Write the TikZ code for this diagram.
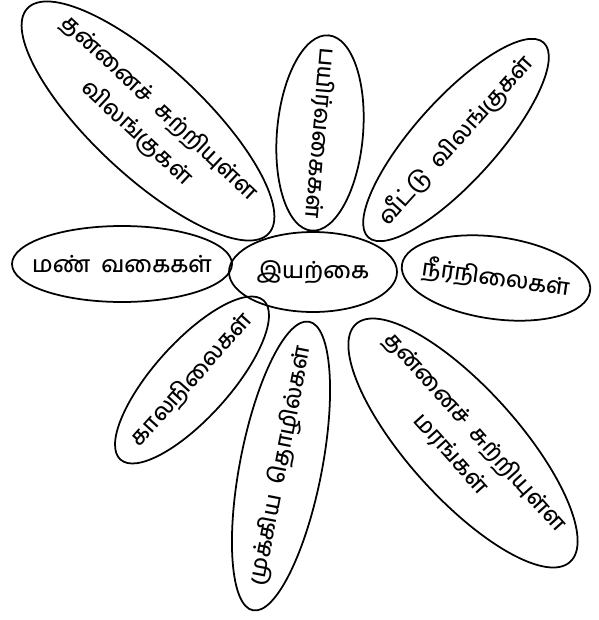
\documentclass[tikz,border=0pt]{standalone}
\usepackage{fontspec}
\newfontfamily\tamilfont[Script=Tamil, UprightFont={* Medium}]{Hind Madurai}
\usetikzlibrary{shapes.geometric}
\newcommand{\petaltext}[1]{\makebox[0pt]{\shortstack{#1}}}

\begin{document}
\begin{tikzpicture}[
x=0.03cm,
y=-0.03cm,
font=\tamilfont\fontsize{19.5}{23}\selectfont,
hub/.style={
ellipse,
draw=black,
line width=1.5pt,
inner sep=0pt,
minimum width=5.04cm,
minimum height=2.4cm
},
petal/.style={
ellipse,
draw=black,
line width=1.5pt,
inner sep=0pt
}
]
\useasboundingbox (0,0) rectangle (599,620);

\node[hub] (nature) at (313,272) {\petaltext{இயற்கை}};

\node[petal, minimum width=6.6cm, minimum height=2.28cm] (soil) at (122,264)
{\petaltext{மண்\ \ வகைகள்}};

\node[petal, minimum width=5.7cm, minimum height=2.46cm, rotate=-8] (water) at (496,278)
{\petaltext{நீர்நிலைகள்}};

\node[petal, minimum width=5.88cm, minimum height=2.58cm, rotate=-95] (crops) at (320,133)
{\petaltext{பயிர்வகைகள்}};

\node[petal, minimum width=7.86cm, minimum height=2.46cm, rotate=48] (pets) at (456,140)
{\petaltext{வீட்டு\ \ விலங்குகள்}};

\node[petal, minimum width=9.9cm, minimum height=3.3cm, rotate=-43] (animals) at (148,121)
{\petaltext{தன்னைச்\ \ சுற்றியுள்ள\\[2mm] விலங்குகள்}};

\node[petal, minimum width=6.42cm, minimum height=2.28cm, rotate=48] (climate) at (192,380)
{\petaltext{காலநிலைகள்}};

\node[petal, minimum width=8.82cm, minimum height=2.46cm, rotate=79] (jobs) at (281,466)
{\petaltext{முக்கிய\ \ தொழில்கள்}};

\node[petal, minimum width=9.6cm, minimum height=3.3cm, rotate=-48] (trees) at (463,443)
{\petaltext{தன்னைச்\ \ சுற்றியுள்ள\\[2mm] மரங்கள்}};

\end{tikzpicture}
\end{document}
